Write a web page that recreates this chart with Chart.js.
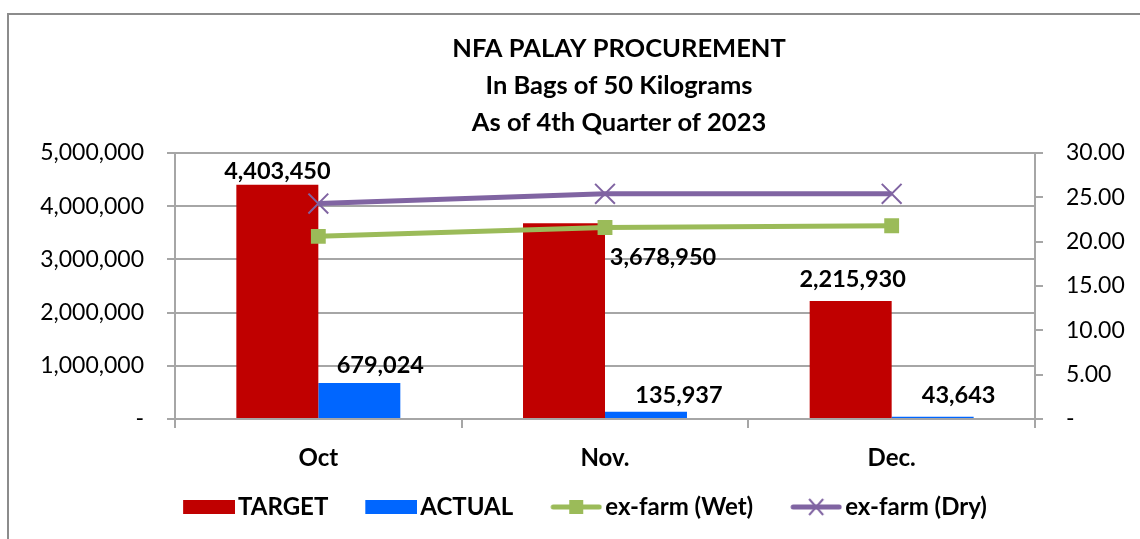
<!DOCTYPE html>
<html><head><meta charset="utf-8">
<script src="https://cdn.jsdelivr.net/npm/chart.js@4.4.0/dist/chart.umd.min.js"></script>
<style>html,body{margin:0;padding:0;background:#fff;}</style>
</head><body>
<canvas id="c" width="1140" height="539" style="display:block;width:1140px;height:539px"></canvas>
<script>
// ---- data ----
const categories = ['Oct', 'Nov.', 'Dec.'];
const targetValues = [4403450, 3678950, 2215930];
const actualValues = [679024, 135937, 43643];
const wetPrice = [20.6, 21.6, 21.8];
const dryPrice = [24.3, 25.4, 25.4];
const seriesNames = ['TARGET', 'ACTUAL', 'ex-farm (Wet)', 'ex-farm (Dry)'];
const titleLines = ['NFA PALAY PROCUREMENT', 'In Bags of 50 Kilograms', 'As of 4th Quarter of 2023'];
const leftMax = 5000000, leftStep = 1000000;
const rightMax = 30, rightStep = 5;

const RED = '#C00000', BLUE = '#0066FF', GREEN = '#9BBB59', PURPLE = '#8064A2';
const GRID = '#a6a6a6';
const FONT = 'Lato, "Open Sans", sans-serif';

function fmtInt(v){ return v === 0 ? '-' : Math.round(v).toLocaleString('en-US'); }
function fmtDec(v){ return v === 0 ? '-' : v.toFixed(2); }

// legend icons (88 wide; visible 52px swatch at the right end)
function makeIcon(kind, color){
  const cv = document.createElement('canvas');
  cv.width = 88; cv.height = 22;
  const g = cv.getContext('2d');
  const L = 36;
  if (kind === 'box'){ g.fillStyle = color; g.fillRect(L, 4, 52, 14); }
  else {
    g.strokeStyle = color; g.lineWidth = 5; g.lineCap = 'round';
    g.beginPath(); g.moveTo(L + 3, 11); g.lineTo(L + 49, 11); g.stroke();
    if (kind === 'square'){ g.fillStyle = color; g.fillRect(L + 19, 4, 14, 14); }
    else { g.lineWidth = 2; g.lineCap = 'butt'; g.beginPath();
      g.moveTo(L + 19, 3); g.lineTo(L + 33, 19); g.moveTo(L + 33, 3); g.lineTo(L + 19, 19); g.stroke(); }
  }
  return cv;
}
const legendIcons = [makeIcon('box', RED), makeIcon('box', BLUE), makeIcon('square', GREEN), makeIcon('x', PURPLE)];

const framePlugin = {
  id: 'frame',
  beforeDraw(chart){
    const ctx = chart.ctx; ctx.save();
    ctx.strokeStyle = '#8c8c8c'; ctx.lineWidth = 2;
    ctx.strokeRect(8, 14, 1300, 700);
    ctx.restore();
  }
};
const titlePlugin = {
  id: 'ctitle',
  afterDraw(chart, args, opts){
    const ctx = chart.ctx; ctx.save();
    ctx.font = 'bold 25.5px ' + FONT; ctx.fillStyle = '#000';
    ctx.textAlign = 'center'; ctx.textBaseline = 'middle';
    opts.lines.forEach((t, i) => ctx.fillText(t, opts.x, opts.y + i * opts.step));
    ctx.restore();
  }
};
const labelPlugin = {
  id: 'barLabels',
  afterDatasetsDraw(chart, args, opts){
    const ctx = chart.ctx; ctx.save();
    ctx.font = 'bold 23.5px ' + FONT; ctx.fillStyle = '#000';
    ctx.textAlign = 'center'; ctx.textBaseline = 'middle';
    Object.keys(opts.offsets).forEach(di => {
      const meta = chart.getDatasetMeta(+di);
      const vals = chart.data.datasets[di].data;
      meta.data.forEach((el, j) => {
        const o = opts.offsets[di][j];
        ctx.fillText(fmtInt(vals[j]), el.x + o[0], el.y + o[1]);
      });
    });
    ctx.restore();
  }
};

new Chart(document.getElementById('c'), {
  type: 'bar',
  data: {
    labels: categories,
    datasets: [
      { label: seriesNames[0], data: targetValues, backgroundColor: RED, yAxisID: 'y', order: 2,
        categoryPercentage: 0.572, barPercentage: 1.0 },
      { label: seriesNames[1], data: actualValues, backgroundColor: BLUE, yAxisID: 'y', order: 2,
        categoryPercentage: 0.572, barPercentage: 1.0 },
      { type: 'line', label: seriesNames[2], data: wetPrice, yAxisID: 'y1', order: 1,
        borderColor: GREEN, backgroundColor: GREEN, borderWidth: 5,
        pointStyle: 'rect', pointRadius: 10.5, pointBorderWidth: 0, pointBackgroundColor: GREEN, pointBorderColor: GREEN },
      { type: 'line', label: seriesNames[3], data: dryPrice, yAxisID: 'y1', order: 1,
        borderColor: PURPLE, backgroundColor: PURPLE, borderWidth: 5,
        pointStyle: 'crossRot', pointRadius: 14, pointBorderWidth: 2, pointBorderColor: PURPLE }
    ]
  },
  options: {
    responsive: false, animation: false, devicePixelRatio: 1,
    layout: { padding: { left: 3, right: 0, top: 153, bottom: 10 } },
    scales: {
      x: {
        offset: true,
        grid: { offset: true, drawOnChartArea: false, tickLength: 9, color: GRID, lineWidth: 2 },
        border: { color: GRID, width: 2 },
        ticks: { font: { family: FONT, size: 24, weight: 'bold' }, color: '#000', padding: 16 },
        afterFit(s){ s.height = 66; }
      },
      y: {
        position: 'left', min: 0, max: leftMax,
        grid: { color: GRID, lineWidth: 2, tickLength: 8 },
        border: { color: GRID, width: 2 },
        ticks: { stepSize: leftStep, callback: v => fmtInt(v), font: { family: FONT, size: 23 }, color: '#000', padding: 23 },
        afterFit(s){ s.width = 172; }
      },
      y1: {
        position: 'right', min: 0, max: rightMax,
        grid: { drawOnChartArea: false, color: GRID, lineWidth: 2, tickLength: 8 },
        border: { color: GRID, width: 2 },
        ticks: { stepSize: rightStep, callback: v => fmtDec(v), font: { family: FONT, size: 23 }, color: '#000', padding: 23 },
        afterFit(s){ s.width = 105; }
      }
    },
    plugins: {
      tooltip: { enabled: false },
      legend: {
        position: 'bottom',
        labels: {
          usePointStyle: true, pointStyleWidth: 70, boxHeight: 14, padding: 10,
          font: { family: FONT, size: 24, weight: 'bold' }, color: '#000',
          generateLabels(chart){
            return chart.data.datasets.map((ds, i) => ({
              text: ds.label, pointStyle: legendIcons[i], datasetIndex: i,
              fillStyle: 'transparent', strokeStyle: 'transparent', lineWidth: 0,
              hidden: !chart.isDatasetVisible(i), fontColor: '#000'
            }));
          }
        }
      },
      ctitle: { lines: titleLines, x: 619, y: 49, step: 37 },
      barLabels: { offsets: { 0: [[0, -13], [99, 34], [2, -22]], 1: [[21, -17], [33, -16], [26, -21]] } }
    }
  },
  plugins: [framePlugin, titlePlugin, labelPlugin]
});
</script>
</body></html>
